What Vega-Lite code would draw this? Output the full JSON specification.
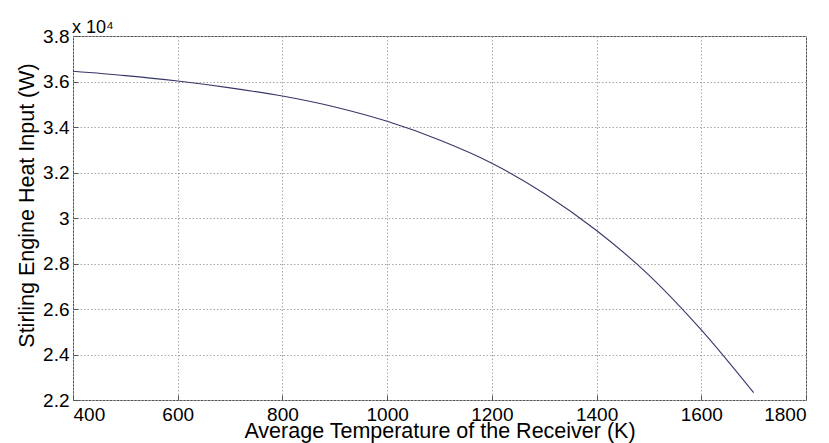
{
  "$schema": "https://vega.github.io/schema/vega-lite/v6.json",
  "width": 733,
  "height": 364,
  "autosize": {"type": "none"},
  "padding": {"left": 73, "top": 36, "right": 23, "bottom": 43},
  "background": "white",
  "config": {
    "font": "Liberation Sans",
    "view": {"stroke": "#555555", "strokeWidth": 1}
  },
  "title": {"text": "x 10⁴", "anchor": "start", "frame": "group", "offset": -10, "dx": -1, "font": "Liberation Sans", "fontWeight": "normal", "fontSize": 18, "color": "#000000"},
  "data": {
    "values": [
      {"T": 400, "Q": 36450},
      {"T": 500, "Q": 36260},
      {"T": 600, "Q": 36020},
      {"T": 700, "Q": 35720},
      {"T": 800, "Q": 35360},
      {"T": 900, "Q": 34880},
      {"T": 1000, "Q": 34250},
      {"T": 1100, "Q": 33430},
      {"T": 1200, "Q": 32410},
      {"T": 1300, "Q": 31080},
      {"T": 1400, "Q": 29450},
      {"T": 1500, "Q": 27490},
      {"T": 1600, "Q": 25080},
      {"T": 1700, "Q": 22320}
    ]
  },
  "mark": {"type": "line", "color": "#363668", "strokeWidth": 1.1, "interpolate": "monotone"},
  "encoding": {
    "x": {
      "field": "T", "type": "quantitative",
      "scale": {"domain": [400, 1800], "nice": false, "zero": false},
      "axis": {
        "title": "Average Temperature of the Receiver (K)",
        "values": [400, 600, 800, 1000, 1200, 1400, 1600, 1800],
        "format": "d",
        "grid": true, "gridDash": [1.5, 2], "gridColor": "#a8a8a8", "gridWidth": 1,
        "domain": false, "ticks": true, "tickSize": -5, "tickColor": "#555555",
        "labelFont": "Liberation Sans", "labelFontSize": 19, "labelColor": "#000000", "labelPadding": 10,
        "titleFont": "Liberation Sans", "titleFontSize": 21.5, "titleFontWeight": "normal", "titleColor": "#000000", "titlePadding": -4
      }
    },
    "y": {
      "field": "Q", "type": "quantitative",
      "scale": {"domain": [22000, 38000], "nice": false, "zero": false},
      "axis": {
        "title": "Stirling Engine Heat Input (W)",
        "values": [22000, 24000, 26000, 28000, 30000, 32000, 34000, 36000, 38000],
        "labelExpr": "format(datum.value / 10000, '.1~f')",
        "grid": true, "gridDash": [1.5, 2], "gridColor": "#a8a8a8", "gridWidth": 1,
        "domain": false, "ticks": true, "tickSize": -5, "tickColor": "#555555",
        "labelFont": "Liberation Sans", "labelFontSize": 19, "labelColor": "#000000", "labelPadding": 9,
        "titleFont": "Liberation Sans", "titleFontSize": 21.5, "titleFontWeight": "normal", "titleColor": "#000000", "titlePadding": 4, "titleY": 169
      }
    }
  }
}
